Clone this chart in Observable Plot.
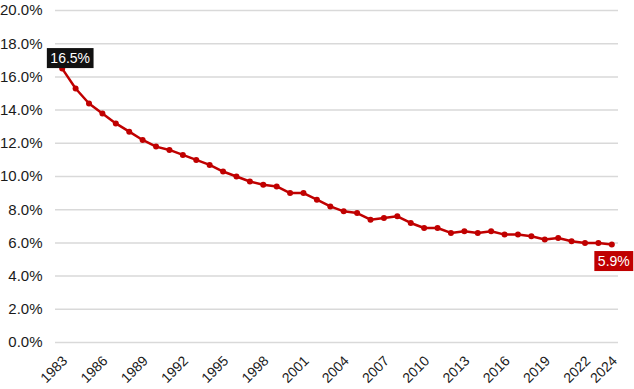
<!DOCTYPE html>
<html>
<head>
<meta charset="utf-8">
<script src="https://cdn.jsdelivr.net/npm/d3@7"></script>
<script src="https://cdn.jsdelivr.net/npm/@observablehq/plot@0.6"></script>
<style>
  html, body { margin: 0; padding: 0; background: #fff; }
</style>
</head>
<body>
<div id="chart"></div>
<script>
const years = [1983,1984,1985,1986,1987,1988,1989,1990,1991,1992,1993,1994,1995,1996,1997,1998,1999,2000,2001,2002,2003,2004,2005,2006,2007,2008,2009,2010,2011,2012,2013,2014,2015,2016,2017,2018,2019,2020,2021,2022,2023,2024];
const rates = [16.5,15.3,14.4,13.8,13.2,12.7,12.2,11.8,11.6,11.3,11.0,10.7,10.3,10.0,9.7,9.5,9.4,9.0,9.0,8.6,8.2,7.9,7.8,7.4,7.5,7.6,7.2,6.9,6.9,6.6,6.7,6.6,6.7,6.5,6.5,6.4,6.2,6.3,6.1,6.0,6.0,5.9];
const xTickYears = [1983,1986,1989,1992,1995,1998,2001,2004,2007,2010,2013,2016,2019,2022,2024];
const yTicks = [0,2,4,6,8,10,12,14,16,18,20];

const data = years.map((year, i) => ({year, rate: rates[i]}));
const first = data[0];
const last = data[data.length - 1];
const fmt = d => d.toFixed(1) + "%";

const chart = Plot.plot({
  width: 634,
  height: 389,
  marginLeft: 55,
  marginRight: 16,
  marginTop: 10,
  marginBottom: 47,
  style: {fontFamily: "'Liberation Sans', Arial, sans-serif", fontSize: "15px", color: "#1a1a1a", background: "#fff"},
  x: {type: "point", domain: years, padding: 0.5, round: false},
  y: {domain: [0, 20]},
  marks: [
    Plot.gridY(yTicks, {stroke: "#d9d9d9", strokeOpacity: 1, strokeWidth: 1.5}),
    Plot.axisY(yTicks, {tickSize: 0, tickPadding: 13, tickFormat: fmt, fontSize: 15, label: null}),
    Plot.axisX(xTickYears, {tickSize: 0, tickPadding: 16, tickRotate: -45, tickFormat: d => String(d), fontSize: 14, dx: 3, label: null}),
    Plot.line(data, {x: "year", y: "rate", stroke: "#c00000", strokeWidth: 2.5}),
    Plot.dot(data, {x: "year", y: "rate", r: 3, fill: "#c00000"}),
    Plot.text([first], {x: "year", y: "rate", text: d => fmt(d.rate), fill: "white", fontSize: 14, dx: 8, dy: -10}),
    Plot.text([last], {x: "year", y: "rate", text: d => fmt(d.rate), fill: "white", fontSize: 14, dx: 2, dy: 17})
  ]
});
document.getElementById("chart").appendChild(chart);

// Add background boxes behind the value labels
const boxColors = ["#111111", "#c00000"];
chart.querySelectorAll('g[aria-label="text"]').forEach((g, i) => {
  g.querySelectorAll("text").forEach(t => {
    const b = t.getBBox();
    const ctm = t.getAttribute("transform");
    const r = document.createElementNS("http://www.w3.org/2000/svg", "rect");
    r.setAttribute("x", b.x - 3.5);
    r.setAttribute("y", b.y - 2);
    r.setAttribute("width", b.width + 7);
    r.setAttribute("height", b.height + 4);
    r.setAttribute("fill", boxColors[i]);
    if (ctm) r.setAttribute("transform", ctm);
    t.parentNode.insertBefore(r, t);
  });
});
</script>
</body>
</html>
